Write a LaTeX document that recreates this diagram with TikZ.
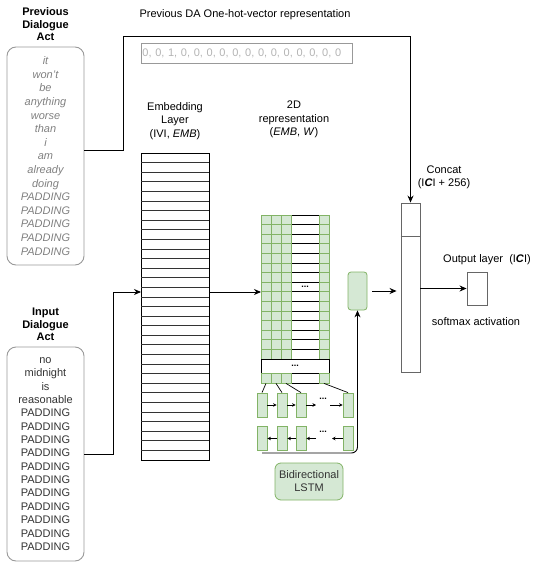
\documentclass[tikz,border=0pt]{standalone}
\usepackage{fontspec}
\setmainfont{Liberation Sans}
\usetikzlibrary{arrows.meta}

\definecolor{Cgreenfill}{HTML}{D5E8D4}
\definecolor{Cgreenline}{HTML}{82B366}
\definecolor{Cboxline}{HTML}{999999}
\definecolor{Cwordgray}{HTML}{808080}
\definecolor{Conehot}{HTML}{B3B3B3}
\definecolor{Cdarkline}{HTML}{666666}
\definecolor{Cinputtext}{HTML}{333333}

\begin{document}
\begin{tikzpicture}[x=1pt,y=-1pt,line width=0.9pt,
	font=\fontsize{11}{13.5}\selectfont,
	flow/.style={-{Stealth[length=7pt,width=6pt]},line width=0.9pt},
	tinyflow/.style={-{Stealth[length=3.5pt,width=3.5pt]},line width=0.7pt},
	wordbox/.style={draw=Cboxline,rounded corners=9pt,minimum width=77pt,inner sep=0pt,align=center},
	titletext/.style={font=\fontsize{11}{12.5}\selectfont\bfseries,align=center},
	greencell/.style={draw=Cgreenline,fill=Cgreenfill,line width=0.8pt},
	whitecell/.style={draw=black,fill=white,line width=0.8pt},
	lstmcell/.style={greencell,minimum width=10pt,minimum height=24pt,inner sep=0pt},
	dotstext/.style={font=\fontsize{9}{9}\selectfont\bfseries,inner sep=0pt}]
	\useasboundingbox (0,0) rectangle (533,564);

	% input texts
	\node[titletext] (prevtitle) at (45.5,24.5) {Previous\\Dialogue\\Act};
	\node[wordbox,text=Cwordgray,minimum height=218pt,font=\fontsize{11}{13.6}\selectfont\itshape] (prevda) at (45.5,156)
	{it\\won't\\be\\anything\\worse\\than\\i\\am\\already\\doing\\PADDING\\PADDING\\PADDING\\PADDING\\PADDING};
	\node[titletext] (inputtitle) at (45.5,324.5) {Input\\Dialogue\\Act};
	\node[wordbox,text=Cinputtext,minimum height=214pt,font=\fontsize{11}{13.35}\selectfont] (inputda) at (45.5,454)
	{no\\midnight\\is\\reasonable\\PADDING\\PADDING\\PADDING\\PADDING\\PADDING\\PADDING\\PADDING\\PADDING\\PADDING\\PADDING\\PADDING};

	% one-hot vector
	\node (onehotlabel) at (245,15) {Previous DA One-hot-vector representation};
	\node[draw=Cboxline,text=Conehot,text width=209pt,minimum height=20pt,inner sep=1pt,align=left,anchor=west] (onehot) at (141,53)
	{0, 0, 1, 0, 0, 0, 0, 0, 0, 0, 0, 0, 0, 0, 0, 0};
	\coordinate (topleft) at (123,36);

	% embedding layer
	\node[align=center] (emblabel) at (175,121) {Embedding\\Layer\\(IVI, \textit{EMB})};
	\node[draw,minimum width=68pt,minimum height=307pt,inner sep=0pt] (emb) at (175,306.5) {};
	\foreach \i in {1,...,31}
		\draw[black!80,line width=0.8pt] (141,153+\i*9.594) -- ++(68,0);
	\coordinate (embin) at (141,292);

	% 2D representation
	\node[align=center] (gridlabel) at (294,119.5) {2D\\representation\\(\textit{EMB}, \textit{W})};
	\foreach \r in {0,...,14} {
		\draw[whitecell] (291,215+\r*9.6) rectangle ++(28,9.6);
		\foreach \c in {261,271,281,319}
			\draw[greencell] (\c,215+\r*9.6) rectangle ++(10,9.6);
	}
	\node[dotstext] (griddots) at (305,287) {...};
	\node[whitecell,minimum width=68pt,minimum height=14pt,inner sep=0pt,font=\fontsize{9}{9}\selectfont\bfseries] (dotsrow) at (295,366) {...};
	\draw[whitecell] (291,373) rectangle (319,383);
	\node[greencell,minimum width=10pt,minimum height=10pt,inner sep=0pt] (g1) at (266,378) {};
	\node[greencell,minimum width=10pt,minimum height=10pt,inner sep=0pt] (g2) at (276,378) {};
	\node[greencell,minimum width=10pt,minimum height=10pt,inner sep=0pt] (g3) at (286,378) {};
	\node[greencell,minimum width=10pt,minimum height=10pt,inner sep=0pt] (g4) at (324,378) {};
	\coordinate (gridin) at (261,292);

	% bidirectional LSTM
	\node[lstmcell] (f1) at (262,405) {};
	\node[lstmcell] (f2) at (282,405) {};
	\node[lstmcell] (f3) at (301,405) {};
	\node[lstmcell] (f4) at (348,405) {};
	\node[lstmcell] (b1) at (262,438.5) {};
	\node[lstmcell] (b2) at (282,438.5) {};
	\node[lstmcell] (b3) at (301,438.5) {};
	\node[lstmcell] (b4) at (348,438.5) {};
	\node[dotstext] (fdots) at (323,399) {...};
	\node[dotstext] (bdots) at (323,432) {...};
	\coordinate (fgap1) at (316,405);
	\coordinate (fgap2) at (330,405);
	\coordinate (bgap1) at (332,438.5);
	\coordinate (bgap2) at (316,438.5);
	\draw[line width=0.7pt] (g1.south) -- (f1.north);
	\draw[line width=0.7pt] (g2.south) -- (f2.north);
	\draw[line width=0.7pt] (g3.south) -- (f3.north);
	\draw[line width=0.7pt] (g4.south) -- (f4.north);
	\draw[tinyflow] (f1) -- (f2);
	\draw[tinyflow] (f2) -- (f3);
	\draw[tinyflow] (f3.east) -- (fgap1);
	\draw[tinyflow] (fgap2) -- (f4.west);
	\draw[tinyflow] (b4.west) -- (bgap1);
	\draw[tinyflow] (bgap2) -- (b3.east);
	\draw[tinyflow] (b3) -- (b2);
	\draw[tinyflow] (b2) -- (b1);
	\node[greencell,rounded corners=6pt,minimum width=68pt,minimum height=37pt,align=center,text=Cinputtext,font=\fontsize{11}{13}\selectfont] (bilstm) at (309,481.5) {Bidirectional\\LSTM};
	\node[greencell,rounded corners=3pt,minimum width=19pt,minimum height=38pt,inner sep=0pt] (hidden) at (357.5,291) {};
	\coordinate (lstmfoot) at (262,453);

	% concat and output
	\node[align=center,font=\fontsize{11}{12.5}\selectfont] (concatlabel) at (444,177.5) {Concat\\(I\textbf{\textit{C}}I + 256)};
	\node[draw=Cdarkline,minimum width=19pt,minimum height=169pt,inner sep=0pt] (concat) at (410.5,287.5) {};
	\draw[Cdarkline] ([yshift=-34pt]concat.north west) -- ([yshift=-34pt]concat.north east);
	\node (outlabel) at (487,260) {Output layer\ \ (I\textbf{\textit{C}}I)};
	\node[draw=Cdarkline,minimum width=20pt,minimum height=33pt,inner sep=0pt] (outlayer) at (477,288.5) {};
	\node (softmaxlabel) at (476,322) {softmax activation};

	% connectors
	\draw[flow] ([yshift=6pt]prevda.east) -| (topleft) -| (concat.north);
	\draw[flow] (inputda.east) -- ++(29,0) |- (embin);
	\draw[flow] (emb.east |- gridin) -- (gridin);
	\draw[flow,rounded corners=6pt] (lstmfoot) -| (hidden.south);
	\draw[flow,shorten <=5pt,shorten >=4pt] (hidden.east) -- (hidden.east -| concat.west);
	\draw[flow] (concat.east |- outlayer.west) -- (outlayer.west);
\end{tikzpicture}
\end{document}
